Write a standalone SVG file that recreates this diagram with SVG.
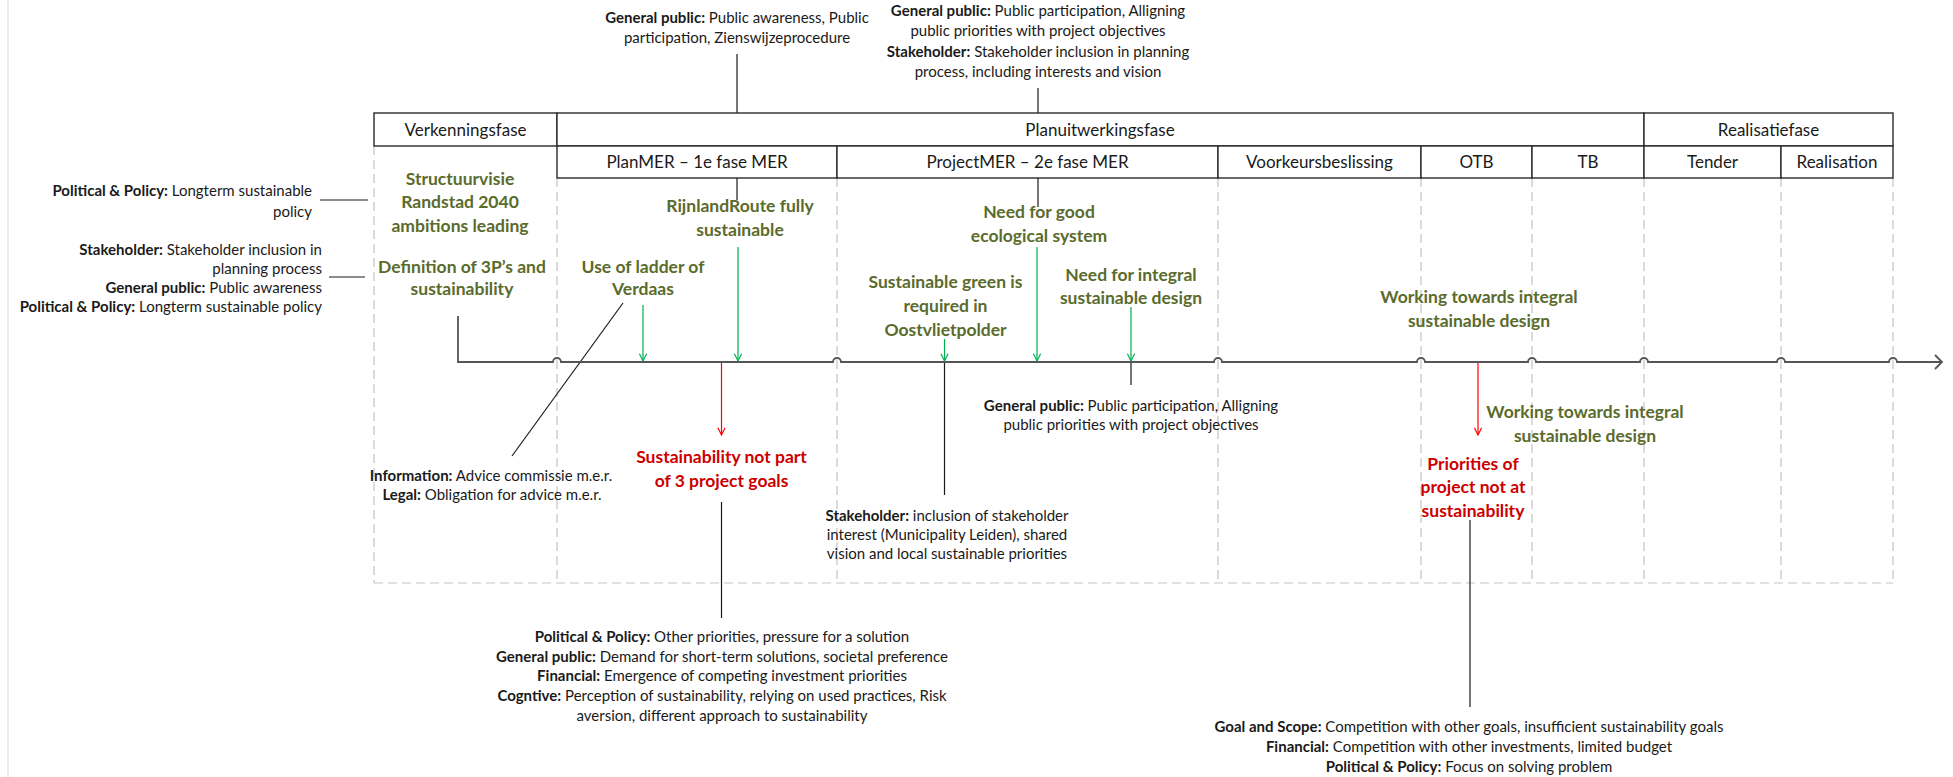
<svg xmlns="http://www.w3.org/2000/svg" width="1953" height="777" viewBox="0 0 1953 777">
<style>
text{font-family:Lato,"Liberation Sans",sans-serif;}
.hd{font-size:17px;fill:#1a1a1a;text-anchor:middle;}
.an{font-size:15px;fill:#1a1a1a;}
.c{text-anchor:middle;}
.r{text-anchor:end;}
.b{font-weight:bold;}
.gr{font-size:17.5px;font-weight:bold;fill:#5a6b2c;text-anchor:middle;}
.rd{font-size:17.5px;font-weight:bold;fill:#cc0000;text-anchor:middle;}
.cell{fill:#fff;stroke:#2a2a2a;stroke-width:1.4;}
.dash{stroke:#c4c4c4;stroke-width:1.2;stroke-dasharray:9,5;fill:none;}
.ln{stroke:#1a1a1a;stroke-width:1.2;fill:none;}
.garr{stroke:#00b050;stroke-width:1.2;fill:none;marker-end:url(#mg);}
.rarr{stroke:#ff0000;stroke-width:1.2;fill:none;marker-end:url(#mr);}
.axis{stroke:#555;stroke-width:1.8;fill:none;}
</style>
<defs>
<marker id="mg" viewBox="0 0 10 10" refX="9" refY="5" markerWidth="9" markerHeight="9" markerUnits="userSpaceOnUse" orient="auto"><path d="M1,1 L9,5 L1,9" fill="none" stroke="#00b050" stroke-width="1.3"/></marker>
<marker id="mr" viewBox="0 0 10 10" refX="9" refY="5" markerWidth="9" markerHeight="9" markerUnits="userSpaceOnUse" orient="auto"><path d="M1,1 L9,5 L1,9" fill="none" stroke="#ff0000" stroke-width="1.3"/></marker>
</defs>
<rect width="1953" height="777" fill="#fff"/>
<line x1="8" y1="0" x2="8" y2="777" stroke="#e6e6e6" stroke-width="1.5"/>

<g id="grid-dashes">
<path class="dash" d="M374,146 V583 M557,178 V583 M837,178 V583 M1218,178 V583 M1421,178 V583 M1532,178 V583 M1644,178 V583 M1781,178 V583 M1893,178 V583 M374,583 H1893"/>
</g>

<g id="connectors">
<line class="ln" x1="737" y1="54" x2="737" y2="113"/>
<line class="ln" x1="737" y1="178" x2="737" y2="200"/>
<line class="ln" x1="1038" y1="88" x2="1038" y2="113"/>
<line class="ln" x1="1038" y1="178" x2="1038" y2="207"/>
<line class="ln" x1="320" y1="200" x2="368" y2="200"/>
<line class="ln" x1="329" y1="277" x2="365" y2="277"/>
<line class="ln" x1="623" y1="303" x2="512" y2="456"/>
<line class="ln" x1="944.5" y1="362" x2="944.5" y2="495"/>
<line class="ln" x1="1131" y1="362" x2="1131" y2="385"/>
<line class="ln" x1="721.5" y1="502" x2="721.5" y2="618"/>
<line class="ln" x1="1470" y1="520" x2="1470" y2="707"/>
<line class="garr" x1="643" y1="305" x2="643" y2="361"/>
<line class="garr" x1="738" y1="247" x2="738" y2="361"/>
<line class="garr" x1="1037" y1="247" x2="1037" y2="361"/>
<line class="garr" x1="944.5" y1="339" x2="944.5" y2="361"/>
<line class="garr" x1="1131" y1="307" x2="1131" y2="361"/>
<line class="rarr" x1="721.5" y1="363" x2="721.5" y2="435"/>
<line class="rarr" x1="1478" y1="363" x2="1478" y2="435"/>
</g>

<g id="axis">
<path class="axis" d="M458,316 V362 H553 A4,4 0 0 1 561,362 H833 A4,4 0 0 1 841,362 H1214 A4,4 0 0 1 1222,362 H1417 A4,4 0 0 1 1425,362 H1528 A4,4 0 0 1 1536,362 H1640 A4,4 0 0 1 1648,362 H1777 A4,4 0 0 1 1785,362 H1889 A4,4 0 0 1 1897,362 H1942 M1935,355 L1942,362 L1935,369"/>
</g>

<g id="phase-table">
<rect class="cell" x="374" y="113" width="183" height="33"/>
<rect class="cell" x="557" y="113" width="1087" height="33"/>
<rect class="cell" x="1644" y="113" width="249" height="33"/>
<rect class="cell" x="557" y="146" width="280" height="32"/>
<rect class="cell" x="837" y="146" width="381" height="32"/>
<rect class="cell" x="1218" y="146" width="203" height="32"/>
<rect class="cell" x="1421" y="146" width="111" height="32"/>
<rect class="cell" x="1532" y="146" width="112" height="32"/>
<rect class="cell" x="1644" y="146" width="137" height="32"/>
<rect class="cell" x="1781" y="146" width="112" height="32"/>
<text class="hd" x="465.5" y="135.5">Verkenningsfase</text>
<text class="hd" x="1100" y="135.5">Planuitwerkingsfase</text>
<text class="hd" x="1768.5" y="135.5">Realisatiefase</text>
<text class="hd" x="697" y="168">PlanMER – 1e fase MER</text>
<text class="hd" x="1027.5" y="168">ProjectMER – 2e fase MER</text>
<text class="hd" x="1319.5" y="168">Voorkeursbeslissing</text>
<text class="hd" x="1476.5" y="168">OTB</text>
<text class="hd" x="1588" y="168">TB</text>
<text class="hd" x="1712.5" y="168">Tender</text>
<text class="hd" x="1837" y="168">Realisation</text>
</g>

<g id="top-annotation-1">
<text class="an c" x="737" y="23"><tspan class="b">General public:</tspan> Public awareness, Public</text>
<text class="an c" x="737" y="43">participation, Zienswijzeprocedure</text>
</g>
<g id="top-annotation-2">
<text class="an c" x="1038" y="16"><tspan class="b">General public:</tspan> Public participation, Alligning</text>
<text class="an c" x="1038" y="36">public priorities with project objectives</text>
<text class="an c" x="1038" y="57"><tspan class="b">Stakeholder:</tspan> Stakeholder inclusion in planning</text>
<text class="an c" x="1038" y="77">process, including interests and vision</text>
</g>

<g id="left-annotation-1">
<text class="an r" x="312" y="196"><tspan class="b">Political &amp; Policy:</tspan> Longterm sustainable</text>
<text class="an r" x="312" y="216.5">policy</text>
</g>
<g id="left-annotation-2">
<text class="an r" x="322" y="254.5"><tspan class="b">Stakeholder:</tspan> Stakeholder inclusion in</text>
<text class="an r" x="322" y="273.5">planning process</text>
<text class="an r" x="322" y="292.5"><tspan class="b">General public:</tspan> Public awareness</text>
<text class="an r" x="322" y="312"><tspan class="b">Political &amp; Policy:</tspan> Longterm sustainable policy</text>
</g>

<g id="structuurvisie">
<text class="gr" x="460" y="184.5">Structuurvisie</text>
<text class="gr" x="460" y="208">Randstad 2040</text>
<text class="gr" x="460" y="231.5">ambitions leading</text>
</g>
<g id="definition-3p">
<text class="gr" x="462" y="273">Definition of 3P’s and</text>
<text class="gr" x="462" y="294.5">sustainability</text>
</g>
<g id="ladder-verdaas">
<text class="gr" x="643" y="273">Use of ladder of</text>
<text class="gr" x="643" y="294.5">Verdaas</text>
</g>
<g id="rijnlandroute">
<text class="gr" x="740" y="211.5">RijnlandRoute fully</text>
<text class="gr" x="740" y="235.5">sustainable</text>
</g>
<g id="ecological">
<text class="gr" x="1039" y="218">Need for good</text>
<text class="gr" x="1039" y="242">ecological system</text>
</g>
<g id="oostvlietpolder">
<text class="gr" x="945.5" y="288">Sustainable green is</text>
<text class="gr" x="945.5" y="311.5">required in</text>
<text class="gr" x="945.5" y="335.5">Oostvlietpolder</text>
</g>
<g id="integral-design">
<text class="gr" x="1131" y="281">Need for integral</text>
<text class="gr" x="1131" y="304">sustainable design</text>
</g>
<g id="working-towards-1">
<text class="gr" x="1479" y="303">Working towards integral</text>
<text class="gr" x="1479" y="326.5">sustainable design</text>
</g>
<g id="working-towards-2">
<text class="gr" x="1585" y="418">Working towards integral</text>
<text class="gr" x="1585" y="441.5">sustainable design</text>
</g>

<g id="not-part-goals">
<text class="rd" x="721.5" y="463">Sustainability not part</text>
<text class="rd" x="721.5" y="486.5">of 3 project goals</text>
</g>
<g id="priorities-not">
<text class="rd" x="1473" y="469.5">Priorities of</text>
<text class="rd" x="1473" y="493">project not at</text>
<text class="rd" x="1473" y="516.5">sustainability</text>
</g>

<g id="information-legal">
<text class="an c" x="491" y="480.5"><tspan class="b">Information:</tspan> Advice commissie m.e.r.</text>
<text class="an c" x="492" y="500"><tspan class="b">Legal:</tspan> Obligation for advice m.e.r.</text>
</g>
<g id="general-public-below">
<text class="an c" x="1131" y="410.5"><tspan class="b">General public:</tspan> Public participation, Alligning</text>
<text class="an c" x="1131" y="430">public priorities with project objectives</text>
</g>
<g id="stakeholder-below">
<text class="an c" x="947" y="520.5"><tspan class="b">Stakeholder:</tspan> inclusion of stakeholder</text>
<text class="an c" x="947" y="540">interest (Municipality Leiden), shared</text>
<text class="an c" x="947" y="559">vision and local sustainable priorities</text>
</g>
<g id="barriers-1">
<text class="an c" x="722" y="642"><tspan class="b">Political &amp; Policy:</tspan> Other priorities, pressure for a solution</text>
<text class="an c" x="722" y="661.5"><tspan class="b">General public:</tspan> Demand for short-term solutions, societal preference</text>
<text class="an c" x="722" y="681"><tspan class="b">Financial:</tspan> Emergence of competing investment priorities</text>
<text class="an c" x="722" y="701"><tspan class="b">Cogntive:</tspan> Perception of sustainability, relying on used practices, Risk</text>
<text class="an c" x="722" y="720.5">aversion, different approach to sustainability</text>
</g>
<g id="barriers-2">
<text class="an c" x="1469" y="732"><tspan class="b">Goal and Scope:</tspan>  Competition with other goals, insufficient sustainability goals</text>
<text class="an c" x="1469" y="752"><tspan class="b">Financial:</tspan> Competition with other investments, limited budget</text>
<text class="an c" x="1469" y="771.5"><tspan class="b">Political &amp; Policy:</tspan> Focus on solving problem</text>
</g>
</svg>
